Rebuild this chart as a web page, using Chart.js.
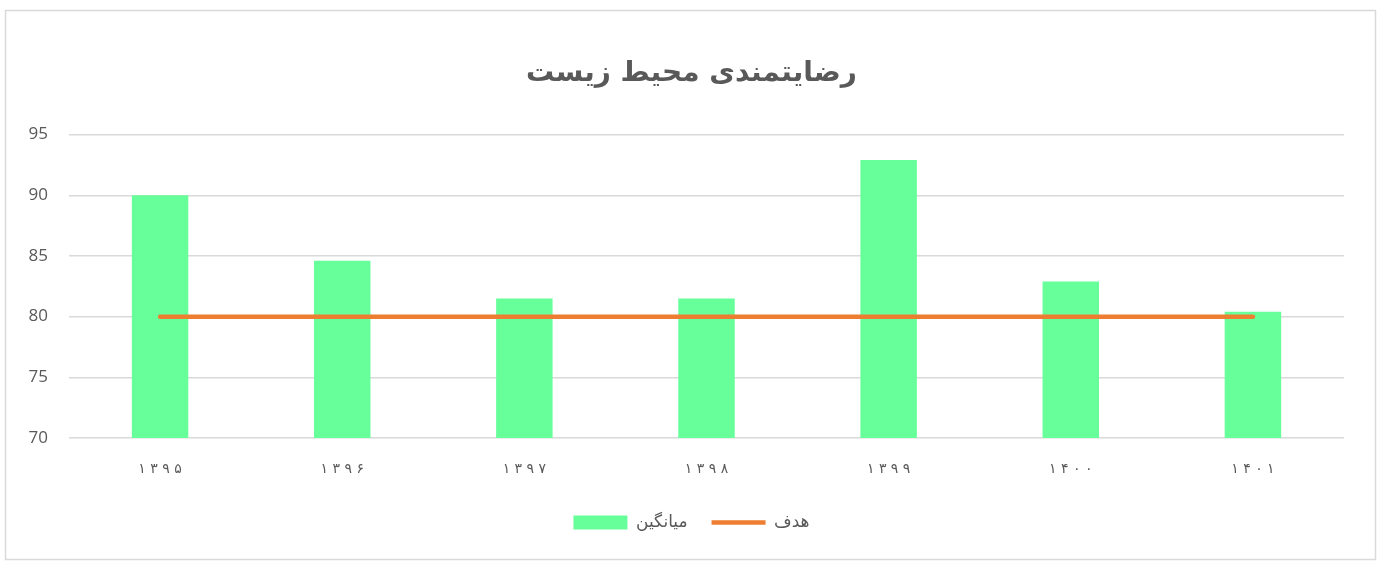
<!DOCTYPE html>
<html><head><meta charset="utf-8">
<script src="https://cdn.jsdelivr.net/npm/chart.js@4"></script>
<style>html,body{margin:0;padding:0;background:#fff;}#wrap{position:absolute;left:0;top:0;width:1383px;height:563px;}</style>
</head><body>
<div id="wrap"><canvas id="c" width="1383" height="563"></canvas></div>
<script>
const categories = ['۱۳۹۵','۱۳۹۶','۱۳۹۷','۱۳۹۸','۱۳۹۹','۱۴۰۰','۱۴۰۱'];
const averageValues = [90, 84.6, 81.5, 81.5, 92.9, 82.9, 80.4];
const targetValues = [80, 80, 80, 80, 80, 80, 80];
const yTicks = [70, 75, 80, 85, 90, 95];
const titleText = 'رضایتمندی محیط زیست';
const seriesNames = ['میانگین', 'هدف'];

const borderPlugin = {
  id: 'outerBorder',
  beforeDraw(chart) {
    const ctx = chart.ctx;
    ctx.save();
    ctx.fillStyle = '#fff';
    ctx.fillRect(0, 0, chart.width, chart.height);
    ctx.strokeStyle = '#D9D9D9';
    ctx.lineWidth = 1.5;
    ctx.strokeRect(5.5, 10.5, 1370, 549);
    ctx.restore();
  }
};

new Chart(document.getElementById('c'), {
  data: {
    labels: categories,
    datasets: [
      { type: 'bar', label: seriesNames[0], data: averageValues, backgroundColor: '#66FF99',
        borderWidth: 0, barPercentage: 0.31, categoryPercentage: 1, pointStyle: 'rect', order: 2 },
      { type: 'line', label: seriesNames[1], data: targetValues, borderColor: '#ED7D31',
        backgroundColor: '#ED7D31', borderWidth: 4.5, borderCapStyle: 'round', pointRadius: 0,
        pointStyle: 'line', order: 1, tension: 0 }
    ]
  },
  options: {
    responsive: false,
    animation: false,
    layout: { padding: { left: 0, right: 0, top: 11, bottom: 22 } },
    plugins: {
      title: { display: true, text: titleText, color: '#595959',
        font: { family: 'DejaVu Sans', size: 28, weight: 'bold' }, padding: { top: 46, bottom: 44 } },
      legend: { position: 'bottom',
        labels: { usePointStyle: true, pointStyleWidth: 54, boxHeight: 14, color: '#595959',
          font: { family: 'DejaVu Sans', size: 17 }, padding: 24,
          sort: (a, b) => a.datasetIndex - b.datasetIndex } },
      tooltip: { enabled: false }
    },
    scales: {
      x: {
        grid: { display: false }, border: { display: false },
        ticks: { color: '#595959', font: { family: 'DejaVu Sans', size: 14 }, padding: 15,
          callback: function(v) { return this.getLabelForValue(v).split('').join(' '); } },
        afterFit(s) { s.height = 52; }
      },
      y: {
        min: 70, max: 95,
        grid: { color: '#D9D9D9', lineWidth: 1.5, drawTicks: false }, border: { display: false },
        afterBuildTicks(s) { s.ticks = yTicks.map(v => ({ value: v })); },
        ticks: { color: '#595959', font: { family: 'Open Sans', size: 17, weight: '500' }, padding: 21 },
        afterFit(s) { s.width = 69; }
      },
      y2: {
        position: 'right', min: 70, max: 95, display: true,
        grid: { display: false }, border: { display: false },
        ticks: { display: false },
        afterFit(s) { s.width = 39; }
      }
    }
  },
  plugins: [borderPlugin]
});
</script>
</body></html>
